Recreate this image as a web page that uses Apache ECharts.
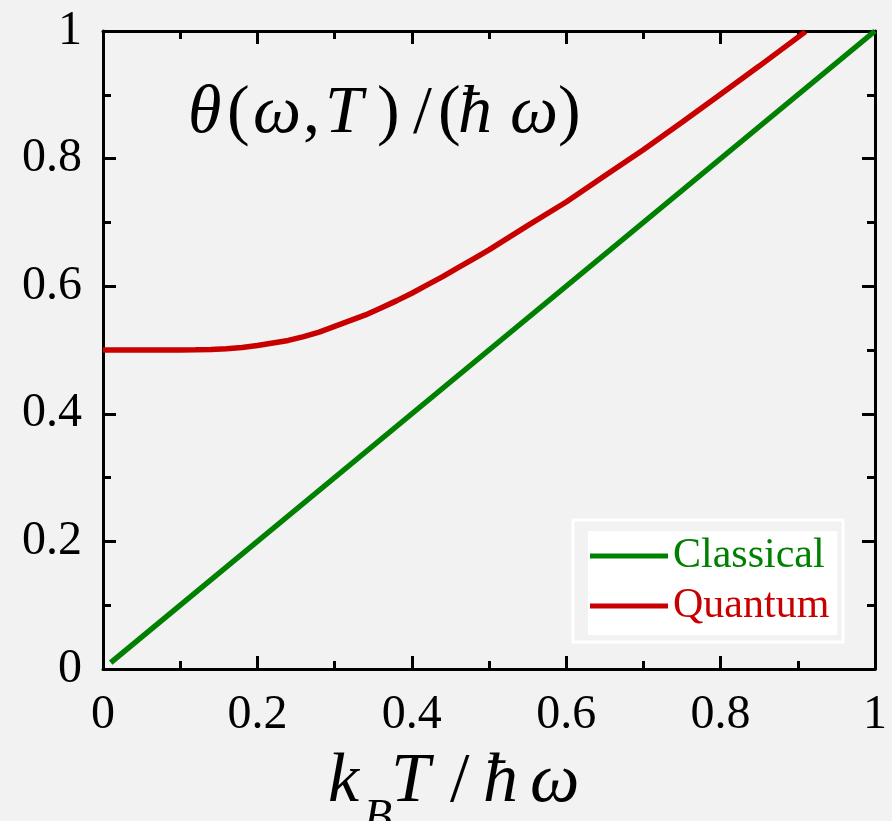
<!DOCTYPE html>
<html>
<head>
<meta charset="utf-8">
<script src="https://cdn.jsdelivr.net/npm/echarts@6/dist/echarts.min.js"></script>
<style>html,body{margin:0;padding:0;background:#f2f2f2;}#c{width:892px;height:821px;}</style>
</head>
<body>
<div id="c"></div>
<script>
// Data
var classicalX = [0.01, 0.25, 0.5, 0.75, 1.0];
var classicalY = [0.01, 0.25, 0.5, 0.75, 1.0];
var quantumX = [0.0, 0.05, 0.10, 0.12, 0.14, 0.16, 0.18, 0.20, 0.22, 0.24, 0.26, 0.28, 0.30, 0.32, 0.34, 0.36, 0.38, 0.40, 0.42, 0.44, 0.46, 0.48, 0.50, 0.55, 0.60, 0.65, 0.70, 0.75, 0.80, 0.85, 0.91];
var quantumY = [0.5, 0.5, 0.5, 0.5002, 0.5008, 0.502, 0.504, 0.507, 0.511, 0.515, 0.521, 0.528, 0.537, 0.546, 0.555, 0.566, 0.577, 0.589, 0.602, 0.615, 0.629, 0.643, 0.657, 0.695, 0.732, 0.773, 0.814, 0.857, 0.901, 0.945, 0.999];
var seriesNames = ['Classical', 'Quantum'];
var seriesColors = ['#008000', '#c80000'];

function pairs(xs, ys) { return xs.map(function (x, i) { return [x, ys[i]]; }); }

var serif = '"Liberation Serif", "DejaVu Serif", serif';

// Title glyphs: [text, x, italic]
var titleGlyphs = [
  ['θ', 188, true], ['(', 227, false], ['ω', 253, true], [',', 303, false],
  ['T', 325, true], [')', 377, false], ['/', 413, false], ['(', 438, false],
  ['ħ', 458, true], ['ω', 510, true], [')', 558, false]
];
// [text, x, italic, size, dy]
var xNameGlyphs = [
  ['k', 328, true, 70, 0], ['B', 364, true, 46, 48], ['T', 391, true, 70, 0],
  ['/', 450, false, 70, 0], ['ħ', 483, true, 70, 0], ['ω', 530, true, 70, 0]
];

var graphics = [];
titleGlyphs.forEach(function (g) {
  graphics.push({ type: 'text', left: g[1], top: 80,
    style: { text: g[0], font: (g[2] ? 'italic ' : '') + '68px ' + serif, fill: '#000' } });
});
xNameGlyphs.forEach(function (g) {
  graphics.push({ type: 'text', left: g[1], top: 748 + g[4],
    style: { text: g[0], font: (g[2] ? 'italic ' : '') + g[3] + 'px ' + serif, fill: '#000' } });
});
graphics.push({ type: 'rect', shape: { x: 573, y: 520, width: 270, height: 122 },
  style: { fill: 'none', stroke: '#ffffff', lineWidth: 3 } });

var tickCommon = { show: true, inside: true, length: 13, lineStyle: { color: '#000', width: 3 } };
var minorCommon = { show: true, splitNumber: 2, length: 8, lineStyle: { color: '#000', width: 3 } };
var lineCommon = { show: true, onZero: false, lineStyle: { color: '#000', width: 3 } };

var chart = echarts.init(document.getElementById('c'));
chart.setOption({
  backgroundColor: '#f2f2f2',
  animation: false,
  grid: { left: 103, right: 17, top: 31, bottom: 152, containLabel: false },
  xAxis: [
    { type: 'value', min: 0, max: 1, interval: 0.2, position: 'bottom',
      axisLine: lineCommon, axisTick: tickCommon, minorTick: minorCommon,
      splitLine: { show: false },
      axisLabel: { margin: 22, color: '#000', fontSize: 48, fontFamily: serif } },
    { type: 'value', min: 0, max: 1, interval: 0.2, position: 'top',
      axisLine: lineCommon, axisTick: tickCommon, minorTick: minorCommon,
      splitLine: { show: false }, axisLabel: { show: false } }
  ],
  yAxis: [
    { type: 'value', min: 0, max: 1, interval: 0.2, position: 'left',
      axisLine: lineCommon, axisTick: tickCommon, minorTick: minorCommon,
      splitLine: { show: false },
      axisLabel: { margin: 21, color: '#000', fontSize: 48, fontFamily: serif, padding: [0, 0, 11, 0] } },
    { type: 'value', min: 0, max: 1, interval: 0.2, position: 'right',
      axisLine: lineCommon, axisTick: tickCommon, minorTick: minorCommon,
      splitLine: { show: false }, axisLabel: { show: false } }
  ],
  legend: {
    orient: 'vertical', left: 588, top: 531,
    backgroundColor: '#ffffff', padding: [4, 8, 8, 2],
    icon: 'rect', itemWidth: 78, itemHeight: 5, itemGap: 8,
    textStyle: { fontSize: 42, fontFamily: serif, lineHeight: 42 },
    data: seriesNames.map(function (n, i) { return { name: n, textStyle: { color: seriesColors[i] } }; })
  },
  graphic: graphics,
  series: [
    { name: seriesNames[0], type: 'line', data: pairs(classicalX, classicalY), showSymbol: false,
      symbol: 'none', lineStyle: { width: 5.5, color: seriesColors[0] }, itemStyle: { color: seriesColors[0] } },
    { name: seriesNames[1], type: 'line', data: pairs(quantumX, quantumY), showSymbol: false,
      symbol: 'none', lineStyle: { width: 5.5, color: seriesColors[1] }, itemStyle: { color: seriesColors[1] } }
  ]
});
</script>
</body>
</html>
